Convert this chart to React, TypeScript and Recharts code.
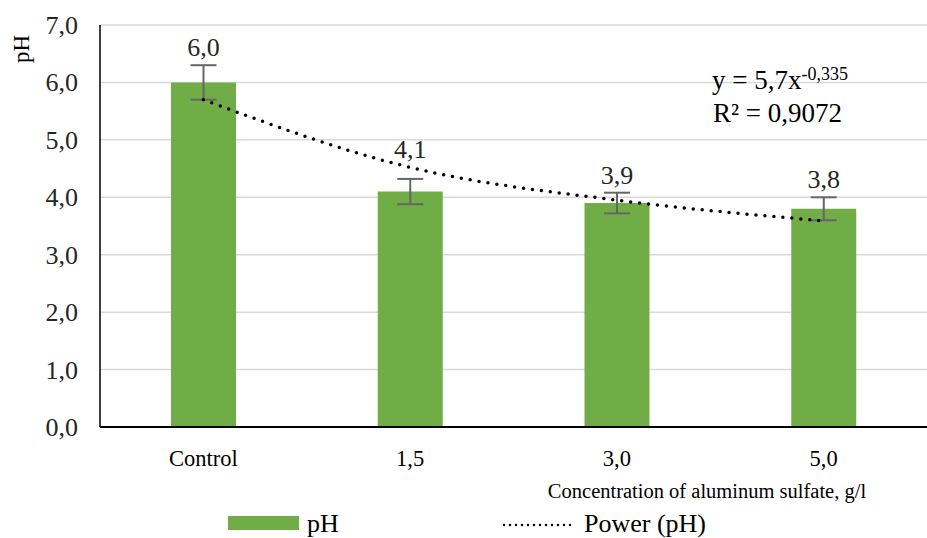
import React from 'react';
import { ComposedChart, Bar, Line, XAxis, YAxis, CartesianGrid, ErrorBar, LabelList } from 'recharts';

const categories = ['Control', '1,5', '3,0', '5,0'];
const phValues = [6.0, 4.1, 3.9, 3.8];
const phErrors = [0.3, 0.22, 0.18, 0.2];
const powerTrend = [5.7, 4.52, 3.95, 3.59];
const yTicks = [0, 1, 2, 3, 4, 5, 6, 7];

const data = categories.map((name, i) => ({
  name,
  ph: phValues[i],
  err: phErrors[i],
  trend: powerTrend[i],
}));

const FONT = 'Times New Roman, Liberation Serif, serif';
const GREEN = '#70AD47';
const fmt = (v: number): string => v.toFixed(1).replace('.', ',');
const txt = (size: number): React.CSSProperties => ({ fontFamily: FONT, fontSize: size });

function XTick({ x, y, payload }: any): React.ReactElement {
  return (
    <text x={x} y={y + 37} textAnchor="middle" fill="#000" style={txt(22.5)}>
      {payload.value}
    </text>
  );
}

function YTick({ x, y, payload }: any): React.ReactElement {
  return (
    <text x={x} y={y + 9} textAnchor="end" fill="#262626" style={txt(26)}>
      {fmt(payload.value)}
    </text>
  );
}

// value label sits above the error bar or the trend line, whichever is higher
function ValueLabel(props: any): React.ReactElement | null {
  const { x, y, width, height, value, index } = props;
  if (value == null) return null;
  const pxPerUnit = height / value;
  const top = Math.max(value + phErrors[index], powerTrend[index]);
  const ty = y + height - top * pxPerUnit - 9;
  return (
    <text x={x + width / 2} y={ty} textAnchor="middle" fill="#262626" style={txt(26)}>
      {fmt(value)}
    </text>
  );
}

export default function App(): React.ReactElement {
  return (
    <div style={{ position: 'absolute', left: 0, top: 0, width: 927, height: 538, background: '#fff', fontFamily: FONT }}>
      <ComposedChart width={927} height={538} data={data} margin={{ top: 25, right: 0, bottom: 66, left: 0 }}>
        <CartesianGrid vertical={false} stroke="#d9d9d9" strokeWidth={1.5} />
        <XAxis
          dataKey="name"
          axisLine={{ stroke: '#000', strokeWidth: 2 }}
          tickLine={false}
          tickSize={0}
          height={45}
          tick={<XTick />}
        />
        <YAxis
          domain={[0, 7]}
          ticks={yTicks}
          width={100}
          axisLine={{ stroke: '#000', strokeWidth: 1.5 }}
          tickLine={false}
          tickSize={0}
          tickMargin={22}
          tick={<YTick />}
        />
        <Bar dataKey="ph" fill={GREEN} barSize={65} isAnimationActive={false}>
          <ErrorBar dataKey="err" width={13} stroke="#666" strokeWidth={2} />
          <LabelList dataKey="ph" content={<ValueLabel />} />
        </Bar>
        <Line
          dataKey="trend"
          type="monotone"
          stroke="#000"
          strokeWidth={3.5}
          strokeDasharray="0 9"
          strokeLinecap="round"
          dot={false}
          activeDot={false}
          isAnimationActive={false}
        />
      </ComposedChart>
      <svg width={927} height={538} style={{ position: 'absolute', left: 0, top: 0, pointerEvents: 'none' }}>
        <text x={21} y={49} transform="rotate(-90 21 49)" textAnchor="middle" dominantBaseline="central" fill="#000" style={txt(23)}>
          pH
        </text>
        <text x={712} y={89} fill="#000" style={txt(27)}>
          y = 5,7x
          <tspan dy={-9} style={txt(18)}>-0,335</tspan>
        </text>
        <text x={713} y={122} fill="#000" style={txt(27)}>
          R² = 0,9072
        </text>
        <text x={707} y={498} textAnchor="middle" fill="#000" style={txt(20.5)}>
          Concentration of aluminum sulfate, g/l
        </text>
        <rect x={228} y={516} width={71} height={14} fill={GREEN} />
        <text x={307} y={532} fill="#000" style={txt(26)}>pH</text>
        <line x1={504} y1={525} x2={571} y2={525} stroke="#000" strokeWidth={2.5} strokeDasharray="0 6" strokeLinecap="round" />
        <text x={584} y={532} fill="#000" style={txt(26)}>Power (pH)</text>
      </svg>
    </div>
  );
}
